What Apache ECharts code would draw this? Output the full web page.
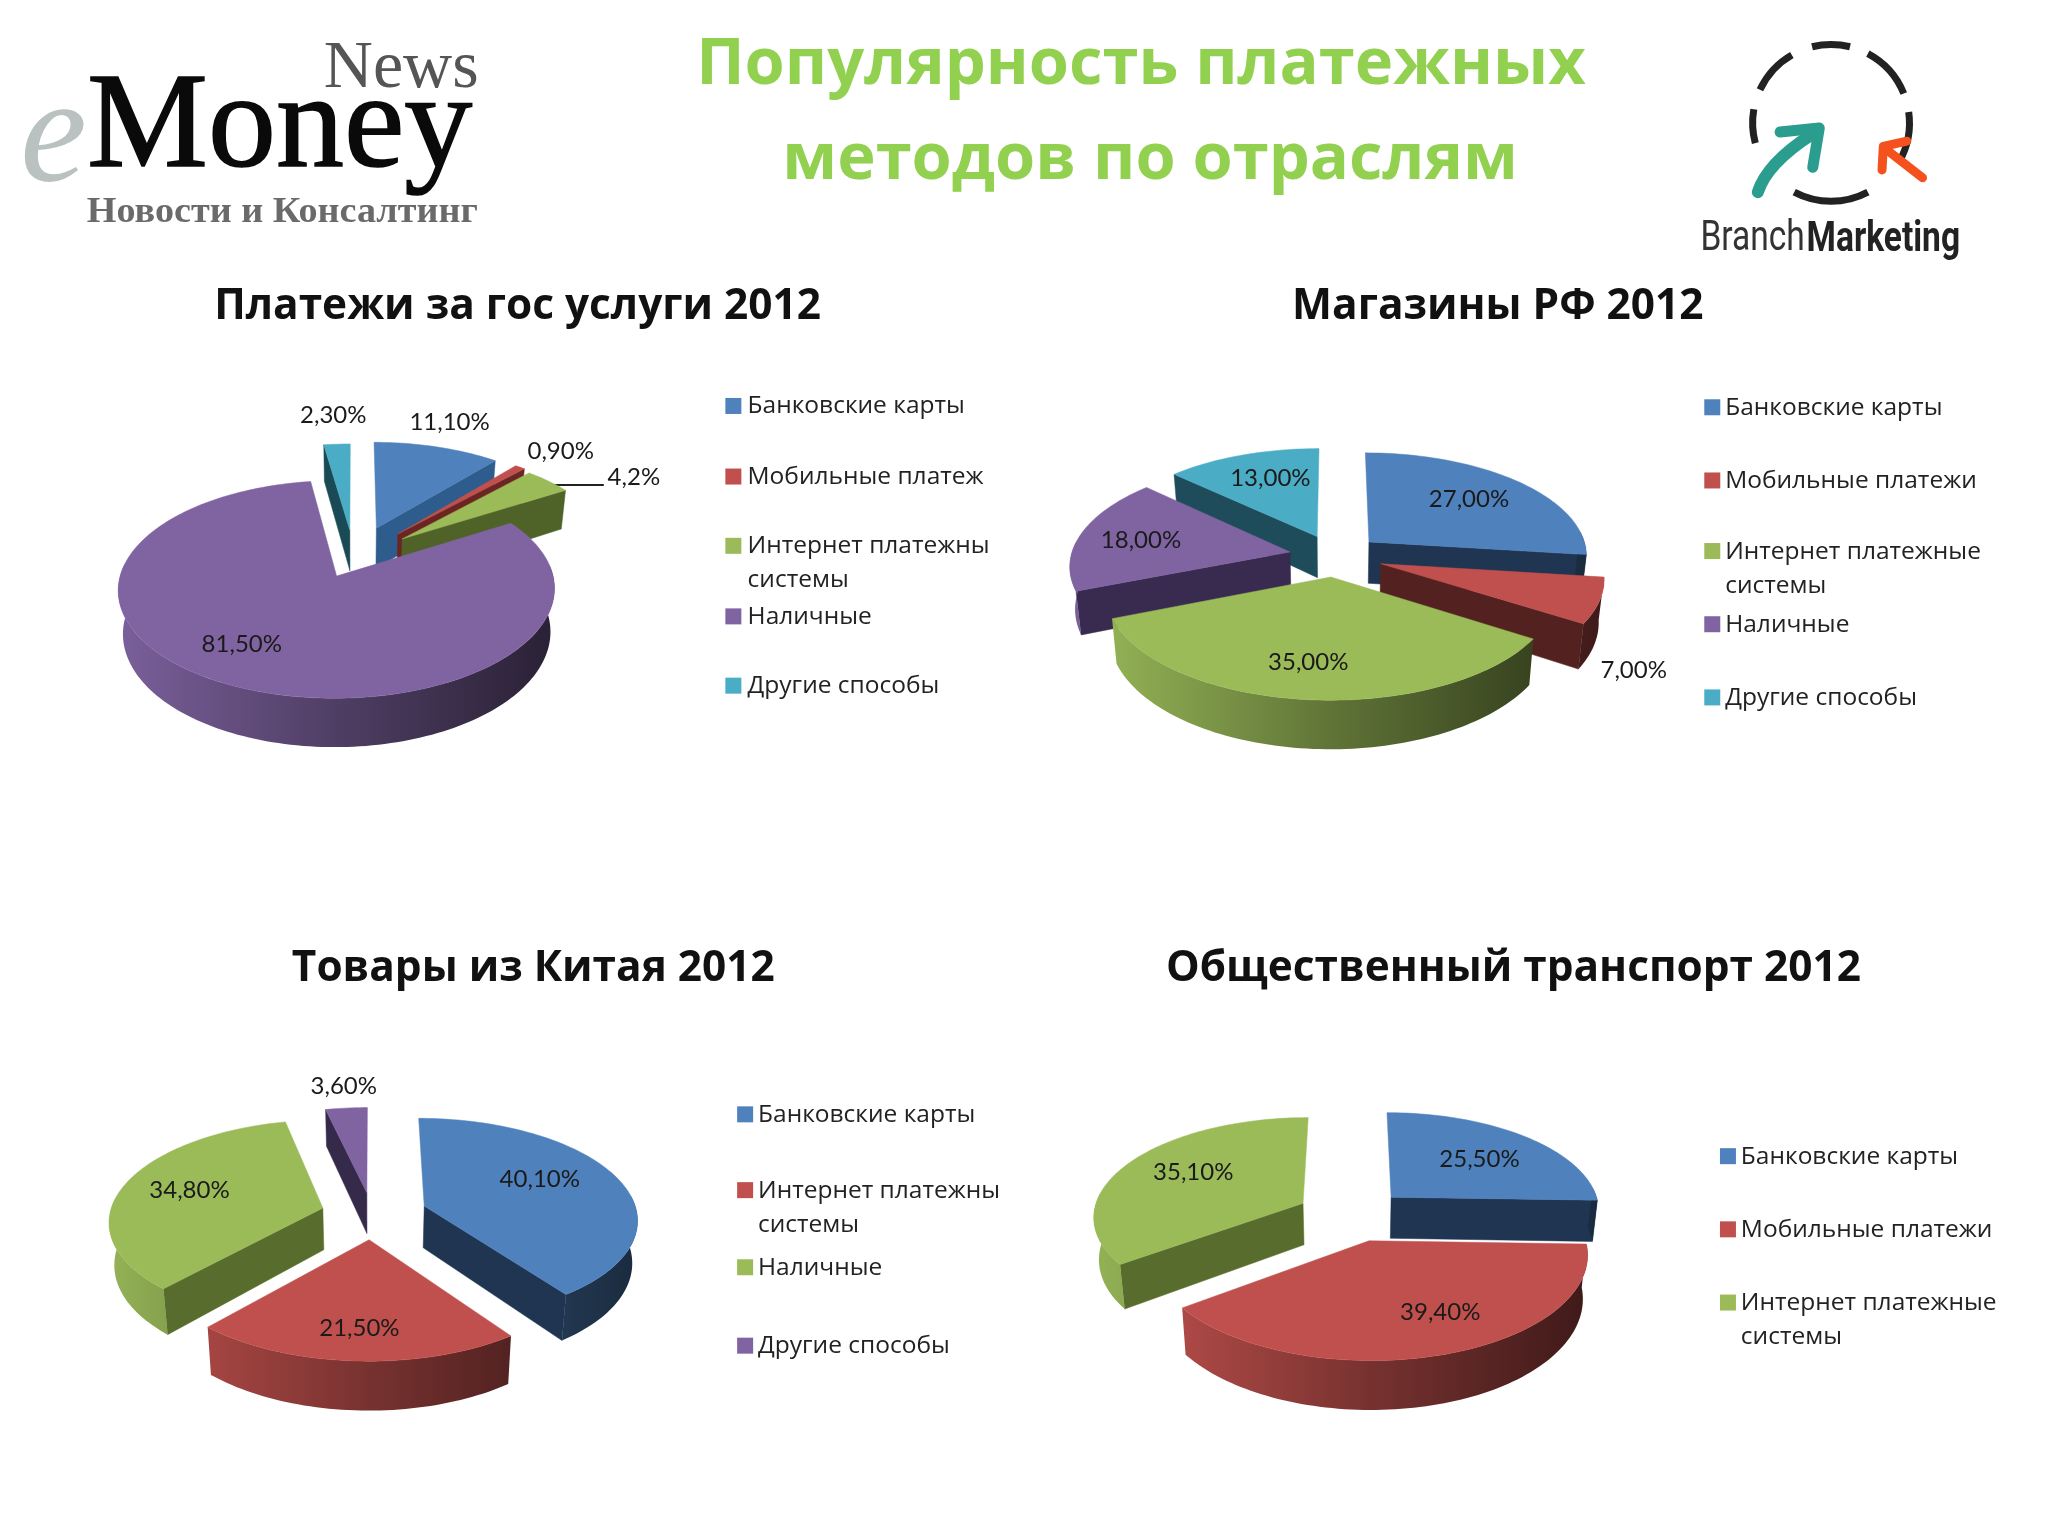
<!DOCTYPE html>
<html><head><meta charset="utf-8">
<style>html,body{margin:0;padding:0;background:#fff}#c{width:2048px;height:1536px}</style>
<script src="https://cdn.jsdelivr.net/npm/echarts@6/dist/echarts.min.js"></script>
</head><body><div id="c"></div>
<script>
// ---------- data ----------
const govNames = ['Банковские карты','Мобильные платежи','Интернет платежные системы','Наличные','Другие способы'];
const govValues = [11.1,0.9,4.2,81.5,2.3];
const govLabels = ['11,10%','0,90%','4,2%','81,50%','2,30%'];
const shopNames = ['Банковские карты','Мобильные платежи','Интернет платежные системы','Наличные','Другие способы'];
const shopValues = [27,7,35,18,13];
const shopLabels = ['27,00%','7,00%','35,00%','18,00%','13,00%'];
const chinaNames = ['Банковские карты','Интернет платежные системы','Наличные','Другие способы'];
const chinaValues = [40.1,21.5,34.8,3.6];
const chinaLabels = ['40,10%','21,50%','34,80%','3,60%'];
const transportNames = ['Банковские карты','Мобильные платежи','Интернет платежные системы'];
const transportValues = [25.5,39.4,35.1];
const transportLabels = ['25,50%','39,40%','35,10%'];

const mainTitle = ['Популярность платежных','методов по отраслям'];
const chartTitles = ['Платежи за гос услуги 2012','Магазины РФ 2012','Товары из Китая 2012','Общественный транспорт 2012'];
// legend text as it is visible (two of the lines are cut off by the frame in the source)
const govLegend = [['Банковские карты'],['Мобильные платеж'],['Интернет платежны','системы'],['Наличные'],['Другие способы']];
const shopLegend = [['Банковские карты'],['Мобильные платежи'],['Интернет платежные','системы'],['Наличные'],['Другие способы']];
const chinaLegend = [['Банковские карты'],['Интернет платежны','системы'],['Наличные'],['Другие способы']];
const transportLegend = [['Банковские карты'],['Мобильные платежи'],['Интернет платежные','системы']];

// ---------- styles & layout ----------
const S = 2048/1567;
const TOP = ['#4f81bd','#c0504d','#9bbb59','#8064a2','#4bacc6'];
const SIDE = ['#1f3552','#532120','#586c2d','#392b4f','#1e4c5a'];
const TOP4 = ['#4f81bd','#c0504d','#9bbb59','#8064a2'];
const LABEL_FONT = 'Lato, "Open Sans", sans-serif';
const TEXT_FONT = '"Open Sans", sans-serif';

const charts = [
 {name:'gov',values:govValues,names:govNames,labels:govLabels,top:TOP,side:['#2e5c8d','#6b2523','#4f6228','#392b4f','#1a4a55'],
  cx:354,cy:558,R:212,t:.485,k:.12,D:42,explode:[.32,.32,.30,.19,.28],
  labelAt:[[344,323],[429,345],[485,365],[185,493],[255,318]]},
 {name:'shop',values:shopValues,names:shopNames,labels:shopLabels,top:TOP,side:SIDE,
  cx:1335,cy:556,R:219,t:.47,k:.12,D:42,explode:[.21,.22,.20,.21,.21],
  labelAt:[[1124,382],[1250,513],[1001,507],[873,413],[972,366]]},
 {name:'china',values:chinaValues,names:chinaNames,labels:chinaLabels,top:TOP4,side:['#1f3552','#532120','#586c2d','#352a4a'],
  cx:372,cy:1214,R:213,t:.47,k:.12,D:42,explode:[.26,.25,.24,.22],
  labelAt:[[413,902],[275,1016],[145,911],[263,831]]},
 {name:'transport',values:transportValues,names:transportNames,labels:transportLabels,top:TOP,side:SIDE,
  cx:1352,cy:1215,R:210,t:.47,k:.12,D:42,explode:[.265,.265,.265],
  labelAt:[[1132,887],[1102,1004],[913,897]]}
];

const legends = [
 {rows:govLegend,colors:TOP,sx:555,tx:572,ys:[[311],[365],[418,444],[472],[525]]},
 {rows:shopLegend,colors:TOP,sx:1304,tx:1320,ys:[[312],[368],[422,448],[478],[534]]},
 {rows:chinaLegend,colors:TOP4,sx:564,tx:580,ys:[[853],[911,937],[970],[1030]]},
 {rows:transportLegend,colors:TOP,sx:1316,tx:1332,ys:[[885],[941],[997,1023]]}
];
const titleAt = [[396,235],[1146,235],[408,741],[1158,741]];

// ---------- helpers ----------
function shade(hex,m){
  const n=parseInt(hex.slice(1),16);
  const f=v=>Math.round(v*m).toString(16).padStart(2,'0');
  return '#'+f(n>>16&255)+f(n>>8&255)+f(n&255);
}
function makeRender(c){
  const total=c.values.reduce((a,b)=>a+b,0);
  const geo=[];let acc=0;
  c.values.forEach((v,i)=>{
    const a0=acc/total*360;acc+=v;const a1=acc/total*360;
    const mid=(a0+a1)/2*Math.PI/180;
    geo.push({a0,a1,ox:Math.sin(mid)*c.explode[i],oy:-Math.cos(mid)*c.explode[i]});
  });
  const rank=geo.map((g,i)=>i).sort((a,b)=>geo[a].oy-geo[b].oy);
  const rankOf=[];rank.forEach((idx,r)=>rankOf[idx]=r);
  return function(params,api){
    const i=api.value(1), g=geo[i];
    const P=(X,Y,z)=>{const p=1/(1-c.k*Y);return [c.cx+c.R*X*p*(1-.02*z),c.cy+c.R*c.t*Y*p+c.D*p*z];};
    const rim=(deg,z)=>{const a=deg*Math.PI/180;return P(g.ox+Math.sin(a),g.oy-Math.cos(a),z);};
    const apex=z=>P(g.ox,g.oy,z);
    const kids=[];
    const base=10+rankOf[i]*3;
    // radial walls facing the viewer
    const radial=(deg)=>({type:'polygon',z2:base,shape:{points:[apex(0),rim(deg,0),rim(deg,1),apex(1)]},
      style:{fill:c.side[i],stroke:c.side[i],lineWidth:.5}});
    if(Math.sin(g.a0*Math.PI/180)<-.001) kids.push(radial(g.a0));
    if(Math.sin(g.a1*Math.PI/180)>.001) kids.push(radial(g.a1));
    // outer wall: the part of the rim turned toward the viewer
    const lo=Math.max(g.a0,84), hi=Math.min(g.a1,276);
    if(hi>lo){
      const up=[],down=[];
      for(let d=lo;d<hi;d+=1.5){up.push(rim(d,0));down.unshift(rim(d,1));}
      up.push(rim(hi,0));down.unshift(rim(hi,1));
      const x0=P(g.ox-1,g.oy,0)[0], x1=P(g.ox+1,g.oy,0)[0];
      const col=c.top[i];
      const grad=new echarts.graphic.LinearGradient(x0,0,x1,0,[
        {offset:0,color:shade(col,.95)},{offset:.5,color:shade(col,.62)},{offset:1,color:shade(col,.33)}],true);
      kids.push({type:'polygon',z2:base+1,shape:{points:up.concat(down)},style:{fill:grad}});
    }
    // top face
    const pts=[apex(0)];
    for(let d=g.a0;d<g.a1;d+=1.5)pts.push(rim(d,0));
    pts.push(rim(g.a1,0));
    kids.push({type:'polygon',z2:base+2,shape:{points:pts},style:{fill:c.top[i],stroke:c.top[i],lineWidth:.5}});
    // value label
    const L=c.labelAt[i];
    kids.push({type:'text',z2:200,x:L[0]*S,y:L[1]*S,style:{text:c.labels[i],align:'center',verticalAlign:'middle',
      fontFamily:LABEL_FONT,fontSize:24,fill:'#1a1a1a'}});
    return {type:'group',children:kids};
  };
}

const gfx=[];
function txt(text,x,y,o){
  gfx.push({type:'text',x:x*S,y:y*S,scaleX:o.scaleX||1,scaleY:o.scaleY||1,silent:true,style:{text,align:o.align||'center',verticalAlign:'middle',
    fontFamily:o.family,fontSize:o.size,fontWeight:o.weight||'normal',fontStyle:o.style||'normal',fill:o.fill,
    stroke:o.stroke||null,lineWidth:o.stroke?1.5:0}});
}
// main title
txt(mainTitle[0],873,50,{family:TEXT_FONT,size:65,weight:'bold',fill:'#92d050'});
txt(mainTitle[1],880,123,{family:TEXT_FONT,size:65,weight:'bold',fill:'#92d050'});
// chart titles
chartTitles.forEach((t,i)=>txt(t,titleAt[i][0],titleAt[i][1],{family:TEXT_FONT,size:43,weight:'bold',fill:'#111',scaleX:.985}));
// legends
legends.forEach(l=>{
  l.rows.forEach((lines,r)=>{
    gfx.push({type:'rect',silent:true,shape:{x:l.sx*S,y:(l.ys[r][0]-6.5)*S,width:16,height:16},style:{fill:l.colors[r]}});
    lines.forEach((ln,j)=>txt(ln,l.tx,l.ys[r][j],{family:TEXT_FONT,size:24.5,fill:'#222',align:'left'}));
  });
});
// leader line in the first chart
gfx.push({type:'line',silent:true,shape:{x1:416*S,y1:371*S,x2:462*S,y2:371*S},style:{stroke:'#222',lineWidth:2}});
// eMoney logo
const SERIF='"Liberation Serif", serif';
txt('e',41,108,{family:SERIF,size:150,style:'italic',fill:'#b9c2c0'});
txt('Money',214,100,{family:SERIF,size:136,fill:'#0a0a0a',stroke:'#0a0a0a'});
txt('News',307,53,{family:SERIF,size:68,fill:'#555'});
txt('Новости и Консалтинг',216,163,{family:SERIF,size:35,weight:'bold',fill:'#6a6a6a',scaleX:1.09});
// Branch Marketing logo
const lc=[1401,94], lr=60;
[[-104,-76],[-62,-22],[-8,30],[62,118],[165,190],[205,240]].forEach(a=>{
  gfx.push({type:'arc',silent:true,shape:{cx:lc[0]*S,cy:lc[1]*S,r:lr*S,startAngle:a[0]*Math.PI/180,endAngle:a[1]*Math.PI/180},
    style:{stroke:'#222',lineWidth:7,fill:null,lineCap:'butt'}});
});
gfx.push({type:'bezierCurve',silent:true,shape:{x1:1345*S,y1:147*S,cpx1:1352*S,cpy1:125*S,x2:1386*S,y2:103*S},style:{stroke:'#2a9d8f',lineWidth:12,lineCap:'round',fill:null}});
gfx.push({type:'polyline',silent:true,shape:{points:[[1362*S,101*S],[1392*S,98*S],[1387*S,128*S]]},style:{stroke:'#2a9d8f',lineWidth:11,fill:null,lineCap:'round',lineJoin:'round'}});
gfx.push({type:'line',silent:true,shape:{x1:1471*S,y1:136*S,x2:1444*S,y2:115*S},style:{stroke:'#f4511e',lineWidth:9,lineCap:'round'}});
gfx.push({type:'polyline',silent:true,shape:{points:[[1440*S,130*S],[1441*S,112*S],[1459*S,108*S]]},style:{stroke:'#f4511e',lineWidth:9,fill:null,lineCap:'round',lineJoin:'round'}});
txt('Branch',1341,183,{family:'Roboto, sans-serif',size:43,fill:'#333',scaleX:.78});
txt('Marketing',1441,184,{family:'Roboto, sans-serif',size:43,weight:'bold',fill:'#222',scaleX:.78});

const chart=echarts.init(document.getElementById('c'),null,{renderer:'canvas'});
chart.setOption({
  animation:false,
  backgroundColor:'#ffffff',
  graphic:{elements:gfx},
  series:charts.map(c=>({
    type:'custom',name:c.name,coordinateSystem:'none',silent:true,clip:false,
    renderItem:makeRender(c),
    data:c.values.map((v,i)=>({name:c.names[i],value:[v,i]}))
  }))
});
</script></body></html>
